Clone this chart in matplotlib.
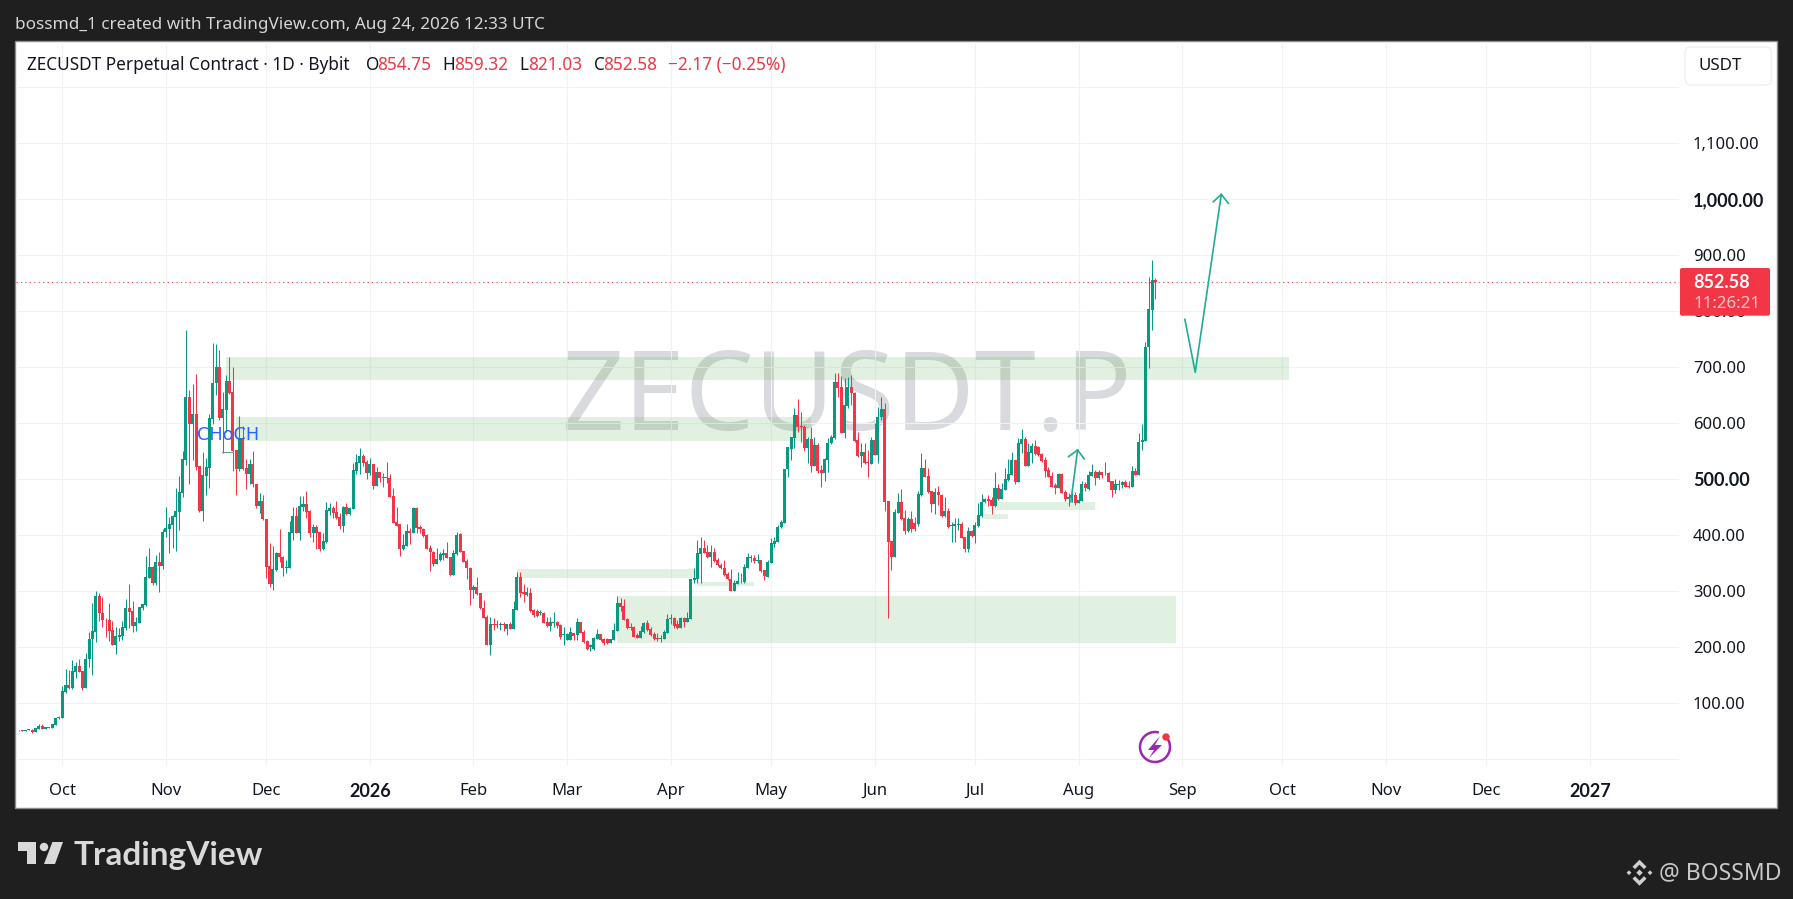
#!/usr/bin/env python3
"""
ZECUSDT daily candles with drawn zones, in the look of a TradingView snapshot.

Usage:
    python plot.py
"""

import matplotlib

matplotlib.use("Agg")

import matplotlib.pyplot as plt
import numpy as np
import pandas as pd
from matplotlib.patches import Arc, Circle, FancyBboxPatch, Polygon, Rectangle

# Daily candles, one per day from 2025-09-17 to 2026-08-24
FIRST_DAY = "2025-09-17"
opens = [
    51.5, 51, 51, 50.8, 51.5, 52, 48.2, 54, 58.3, 54,
    57, 56, 61.3, 73, 74, 119.6, 131.5, 127.4, 156, 165.5,
    156.5, 127.4, 178, 213.7, 227.4, 291, 260, 249, 248.2, 230.4,
    204.2, 218.4, 219.6, 233.9, 269.6, 264.3, 237.5, 243.5, 269, 275,
    323, 342.8, 314.3, 351.8, 345.2, 404.7, 411.3, 418.4, 432.7, 441.6,
    475.6, 533.9, 646.4, 598.2, 616, 523, 443.4, 505.9, 520.2, 607,
    670.8, 700, 608.9, 623.8, 675, 655.3, 551.8, 518.4, 573.2, 519,
    509.5, 526.8, 490.5, 452.4, 460.7, 428.6, 344.6, 313, 337.5, 368.4,
    360.1, 341.6, 341.6, 404.1, 433.9, 404.1, 450.6, 455.3, 443.4, 404.1,
    414.3, 404.7, 375, 387.5, 442.2, 448.2, 441, 432, 416, 450,
    437.5, 446.4, 514.2, 529.1, 541, 530.3, 510.7, 526.8, 487.5, 512.5,
    503.5, 503.5, 501.8, 469.6, 423.2, 419.6, 375, 380.3, 407.1, 404.1,
    448.2, 414.3, 410.7, 400, 376.8, 369, 348.2, 355.3, 363.7, 367.2,
    360.2, 328.6, 366.1, 402.4, 371.5, 353.6, 341.7, 301.8, 307.2, 295.9,
    270.3, 253.6, 203.6, 241.1, 241.1, 240, 241.1, 232.2, 241.1, 232.2,
    266.1, 325.7, 297.7, 292.9, 297.1, 266.1, 264.3, 260.2, 261.4, 245.3,
    237.6, 243.5, 245.3, 239.4, 220.9, 213.2, 213.2, 224.5, 221.5, 244.7,
    226.9, 210.8, 200.7, 196.5, 214.4, 222.7, 214.4, 213.8, 207.8, 212.6,
    229.2, 279.2, 273.3, 249.5, 235.8, 236.4, 221.5, 216.7, 227.4, 242.3,
    231.6, 222.7, 215.5, 214.4, 214.4, 225.7, 249.5, 251.3, 241.1, 234,
    251.3, 244.1, 250.1, 319.7, 320.9, 366.1, 376.2, 370.3, 360.2, 369.1,
    355.4, 346.5, 340.5, 329.8, 322.1, 300.7, 312.6, 316.7, 315.5, 341.7,
    360.8, 358.4, 354.2, 354.8, 337, 325.7, 350.7, 384, 387.5, 413.7,
    422.1, 517.3, 554.2, 573.2, 614.3, 594.6, 593.4, 556, 571.4, 523.2,
    560.7, 516.1, 511.3, 533.9, 563.7, 572.6, 673.8, 664.3, 582.7, 630.9,
    664.3, 654.2, 569.6, 541.7, 548.2, 530.4, 526.8, 569.6, 542.9, 610.1,
    624.4, 460.7, 389.3, 361.3, 440, 458.9, 429.8, 407.2, 428.6, 422,
    419.6, 471.4, 519, 505.4, 478.6, 455.4, 476.2, 472, 433.9, 442.3,
    416.7, 416.7, 417.3, 420.3, 396.4, 375, 407.7, 398.2, 416, 433.9,
    458.9, 463.7, 462.5, 451.8, 483.9, 463.7, 480.4, 498.2, 507.1, 533.9,
    495.2, 562.5, 570.8, 523.8, 546.4, 558.9, 557.7, 544.6, 533.3, 516.1,
    505.4, 489.9, 484, 508.9, 476.8, 464.9, 466.1, 470.8, 457.7, 460.7,
    491.7, 482.1, 505.9, 511.9, 501.2, 511.9, 508.3, 510.1, 496.4, 480.4,
    489.9, 489.9, 494.6, 487.5, 485.7, 514.3, 507.1, 566, 568, 735, 802.4, 854.75,
]
highs = [
    52, 51.5, 51.5, 52, 53.5, 53, 56, 62, 62, 57,
    58, 63, 74, 77, 130, 160.7, 159, 176.8, 173.8, 178,
    157, 188.7, 227.4, 279, 300, 295.8, 289.9, 251, 279, 246.4,
    236.3, 233.3, 246.4, 285.7, 312.5, 282, 254, 271.5, 277, 362.5,
    376.8, 344, 364.3, 369.6, 410.7, 450, 431.5, 435.7, 483.3, 505.3,
    549.4, 766, 658.9, 669.6, 687.5, 523, 547.6, 537.5, 616, 742.8,
    741, 730.3, 654.7, 685.7, 717.8, 700.6, 552, 612.5, 594.6, 536.3,
    535.7, 550, 491, 475, 471.4, 429, 385.7, 380.3, 370.2, 410.7,
    362.5, 355.3, 425, 450, 450, 469.6, 469, 478, 444.6, 419.6,
    417.8, 405, 403, 458.9, 456.5, 451.8, 460.1, 438.7, 451.8, 456.5,
    450.6, 528, 544.6, 554.7, 544.6, 533.9, 536.9, 527, 522, 513,
    511.3, 529.7, 508.9, 483.9, 450, 420, 401.8, 419.6, 411.9, 449.4,
    449.4, 417.8, 411.9, 401, 382, 370.8, 376.2, 369.6, 374.4, 386.9,
    361, 373.3, 404.8, 404.2, 372, 356.6, 343.5, 310.8, 324.5, 297,
    284, 256.6, 254.2, 251.3, 248.3, 245.3, 245.3, 241.5, 245.3, 282.2,
    333.4, 333.4, 312.6, 307.8, 304.8, 267.9, 267.9, 266.1, 263.2, 253,
    254.2, 262, 246.5, 241.1, 235.2, 224.5, 235.2, 224.5, 251.3, 245,
    230.4, 212.6, 205.4, 218.5, 232.2, 223, 215.5, 215.5, 215, 242.3,
    291.1, 288.2, 285.8, 251.3, 242.3, 237.6, 224.5, 238.2, 245.3, 248.3,
    235.2, 226.3, 224.5, 221.5, 230.4, 259, 259, 254.2, 248.3, 254.2,
    253, 262, 321, 340.5, 391.1, 395.9, 391.1, 382.2, 382.2, 376.2,
    358.4, 350.7, 355.4, 334.6, 339.3, 319.7, 334.6, 331.6, 348.3, 367.3,
    364.3, 364.3, 365.5, 356, 338.2, 355.4, 394.1, 395.9, 417.9, 426.8,
    517.5, 556.8, 575.6, 626.2, 642.3, 620.2, 596.4, 575.6, 592.3, 575.6,
    563.7, 525, 536.9, 572.6, 578.6, 688.7, 688.7, 683.9, 679.7, 681.5,
    685.7, 654.5, 584.5, 563.7, 563.7, 551.8, 575.6, 599.4, 629.2, 647,
    635.1, 461, 390, 445.8, 474.4, 482.1, 444.6, 432.7, 443.4, 431.5,
    479.2, 545.8, 535.1, 519, 478.8, 483.3, 488.1, 473.2, 467.3, 447.6,
    423.8, 431, 431, 423.8, 397, 413.7, 408.9, 423.8, 456.6, 473.2,
    465.5, 471.4, 467.3, 512.5, 491, 492.3, 519, 535.1, 548.8, 534,
    573.8, 589.3, 574.4, 563.7, 564.9, 569.6, 559, 545.8, 539.9, 522,
    513.1, 492.3, 510, 510.1, 480.4, 474.4, 477.4, 477.4, 474.4, 497,
    495.2, 514.9, 526.8, 516.1, 516.1, 513.1, 529.8, 511.9, 496.5, 499.4,
    498.2, 497, 498.2, 497, 523.2, 519, 581.5, 598, 745, 860, 891, 859.32,
]
lows = [
    51, 50.5, 50.5, 50.5, 51, 47, 48, 54, 53, 53.5,
    55, 55.5, 60.5, 72, 73, 118.5, 125.6, 125.6, 145, 155,
    123, 127, 164.9, 150.6, 209.5, 247, 236.3, 218.5, 210.7, 204,
    187.5, 211.3, 212.5, 230.4, 233.3, 227.4, 229, 243, 266, 273,
    323, 310, 310.7, 298.8, 338.7, 395.8, 368.4, 376.2, 372, 408.9,
    468.4, 525, 491, 533.9, 516, 441, 425.6, 471.4, 483.3, 598,
    650, 605.3, 547, 584.5, 651, 514.3, 471.4, 514.8, 515.4, 482.1,
    491, 486.3, 448.8, 438.7, 426.8, 323.8, 307.7, 302.4, 336.3, 352.4,
    327.4, 331.5, 341, 391, 403, 391, 443.4, 429.7, 397, 388,
    375, 372, 373, 386.3, 436.3, 429.7, 428, 410.7, 406, 435.7,
    435.7, 446, 508.9, 508.9, 523.2, 500, 507, 482, 487, 495.2,
    485.7, 492.8, 468, 421.8, 416, 362.5, 373, 380, 384, 404,
    403.6, 403, 397, 374.4, 335.7, 344.6, 348, 354, 355.3, 358.3,
    326.9, 328.5, 364.3, 369.1, 351.2, 320.9, 275, 288.2, 292.9, 267.3,
    251.3, 203.5, 185.8, 230.4, 233.4, 230.4, 228.6, 221.5, 232, 232,
    266, 290, 281, 291.1, 263.2, 254.2, 254.2, 257.2, 242.3, 236.4,
    229.2, 235.2, 233.4, 214.4, 203.6, 212.6, 212.6, 212.6, 212.6, 224.5,
    207.8, 194.7, 193.5, 194.7, 213.8, 211.4, 203.6, 205.4, 207.5, 212.5,
    229, 264.3, 248, 231.6, 230.4, 217.3, 215.5, 215.5, 224.5, 229.2,
    219.7, 212.6, 210.8, 208.4, 213.8, 224.5, 241.1, 233.4, 232.2, 233.4,
    236.4, 244, 250, 313.8, 313.8, 313.8, 367.3, 358.4, 343.5, 352.4,
    344.7, 338.8, 326.8, 319.7, 300.6, 300, 312, 313.8, 315, 340.5,
    352.4, 350.7, 350.7, 334.6, 319.7, 324.5, 349.5, 378, 387, 413.1,
    420.9, 504.2, 533.9, 554.8, 584.5, 566.7, 550.6, 528, 513.1, 523,
    511.3, 486.3, 496.4, 513.1, 562.5, 572, 645.8, 581.5, 573.8, 626.2,
    632.1, 566.7, 539.9, 522, 526.8, 504.2, 526.5, 542, 528, 605,
    443.5, 251.2, 337.5, 361, 439.9, 426.8, 401.8, 406, 404.8, 407.7,
    416, 469.6, 503, 475.6, 441.7, 437.5, 453.6, 431.5, 432.7, 411.9,
    388.1, 388, 409, 394, 370.3, 370.3, 397, 386.3, 414.9, 432.7,
    456.6, 452.4, 437.5, 450.6, 462.5, 463.5, 480, 497, 507, 491,
    494, 545.8, 523.2, 523.5, 528, 542.9, 541.7, 530.9, 504.2, 503,
    485.1, 473.2, 483.3, 474.4, 460.7, 451.8, 459.5, 453.6, 457.5, 460.5,
    479.2, 480.4, 505.4, 489.3, 500.6, 501.2, 506.5, 494, 468.4, 475.6,
    480.4, 483.3, 485.1, 483.3, 485.5, 507, 507, 551, 567, 698, 766, 821.03,
]
closes = [
    51, 50.9, 50.8, 51.5, 53, 48.2, 55.4, 58.3, 54, 56.6,
    55.5, 62.5, 73, 75, 121.5, 131.5, 126.8, 156.5, 165.5, 156,
    127.4, 178, 213.7, 228.6, 291, 260, 248.2, 248, 229.2, 204.2,
    219.6, 220.8, 235.1, 269.6, 263, 238, 244, 271.4, 276.8, 324.4,
    342.8, 314.3, 351.8, 344.6, 404.7, 411.9, 419.6, 433.9, 442.2, 476.8,
    535.1, 646.4, 598.8, 616, 522, 442.8, 507, 520.8, 608.9, 671.4,
    700, 608.9, 625, 675, 653.5, 550.6, 518.4, 573.2, 517.2, 509.5,
    526.8, 490.5, 452.4, 460.7, 428, 343.4, 313, 338.7, 368.4, 360.1,
    341, 342.8, 405.3, 433.9, 404.1, 451.8, 455.3, 441, 404.1, 414.3,
    404.1, 375, 388.7, 444.6, 448.2, 439.8, 430.3, 416, 450, 437.5,
    448.2, 515.4, 529.7, 541, 529.1, 510.7, 526.2, 488, 512.5, 501.8,
    501.8, 501.8, 468.4, 422, 416.6, 375.6, 381.5, 407.1, 403.6, 448.2,
    413, 410, 398.2, 375.6, 369, 348.2, 356.5, 365.5, 367.2, 359.5,
    328.6, 367.3, 400, 370.3, 352.4, 340.5, 301.8, 307.2, 294.7, 269.1,
    252.4, 203.6, 241.1, 240, 240, 241.1, 240, 241.1, 232.2, 267.9,
    325.7, 297.1, 294.7, 297.7, 264.3, 257.2, 256, 262, 243.5, 237.6,
    245.3, 245.3, 238.2, 217.3, 222.7, 222.7, 226.3, 220.3, 244.7, 225.7,
    209.6, 195.9, 203.6, 215.5, 222.7, 212.6, 207.8, 207.8, 214.4, 230.4,
    278, 272.1, 248.3, 234.6, 234.6, 218.5, 216.7, 228.6, 243.5, 230.4,
    221.5, 214.4, 213.8, 216.1, 226.9, 249.5, 251.3, 237.6, 234, 251.3,
    244.1, 251.3, 320.9, 322.7, 367.3, 376.2, 368.5, 360.2, 369.1, 354.2,
    346.5, 340.5, 328.6, 320.9, 300.7, 313.8, 317.9, 315.5, 342.3, 360.2,
    359.6, 353.6, 355.4, 335.8, 326.8, 351.8, 385.2, 389.3, 414.9, 423.3,
    517.3, 556.5, 574.4, 614.3, 593.4, 592.3, 554.8, 571.4, 523.2, 560.7,
    514.9, 511.3, 535.1, 564.9, 574.4, 673.8, 663.1, 582.7, 632.1, 664.3,
    653, 568.4, 541.7, 548.2, 529.2, 529.2, 569.6, 542.9, 610.1, 624.4,
    459.5, 388.1, 361.3, 441.1, 458.9, 428.6, 407.2, 428.6, 410.7, 410.7,
    473.2, 519, 504.2, 477.4, 455.4, 476.2, 470.8, 433.9, 442.3, 414.9,
    418.5, 419.1, 419.1, 395.2, 375, 407.7, 398.8, 417.3, 435.1, 459.5,
    463.7, 461.3, 452.4, 483.9, 463.7, 481.5, 499.4, 508.3, 533.9, 494,
    563.7, 570.8, 523.8, 547.6, 558.9, 544.6, 542.9, 532.1, 514.9, 504.2,
    486.3, 484.5, 508.9, 475.6, 464.9, 467.3, 470.8, 457.7, 462.5, 491,
    483.3, 507.1, 511.9, 502.4, 511.9, 507.1, 509.5, 495.2, 480.4, 491,
    491.7, 494.6, 486.3, 485.7, 514.3, 507.1, 566.1, 569, 735, 804, 854.75, 852.58,
]

# Drawn zones: first date, last date, lower price, upper price
zone_starts = ["2025-11-19", "2025-11-22", "2026-03-16", "2026-02-14", "2026-04-09", "2026-07-03", "2026-07-07"]
zone_ends = ["2026-10-03", "2026-05-13", "2026-08-30", "2026-04-08", "2026-04-26", "2026-07-11", "2026-08-06"]
zone_lows = [676.8, 567.8, 207.8, 323.0, 309.6, 428.6, 444.6]
zone_highs = [717.8, 610.7, 291.1, 339.3, 316.1, 437.5, 458.9]

# Drawn arrows, as fractional days since Oct 1 2025 and price
small_arrow_days = [301.7, 303.7]
small_arrow_prices = [459.5, 551.8]
small_head_days = [301.0, 303.7, 305.7]
small_head_prices = [539.9, 551.8, 535.7]
big_arrow_days = [335.8, 338.9, 346.7]
big_arrow_prices = [785.1, 690.5, 1008.3]
big_head_days = [344.3, 346.7, 348.8]
big_head_prices = [995.0, 1008.3, 992.3]

last_price = 852.58
price_ticks = [0, 100, 200, 300, 400, 500, 600, 700, 800, 900, 1000, 1100, 1200]
price_labels = ["", "100.00", "200.00", "300.00", "400.00", "500.00", "600.00", "700.00",
                "800.00", "900.00", "1,000.00", "1,100.00", ""]
month_dates = ["2025-10-01", "2025-11-01", "2025-12-01", "2026-01-01", "2026-02-01", "2026-03-01",
               "2026-04-01", "2026-05-01", "2026-06-01", "2026-07-01", "2026-08-01", "2026-09-01",
               "2026-10-01", "2026-11-01", "2026-12-01", "2027-01-01"]
month_labels = ["Oct", "Nov", "Dec", "2026", "Feb", "Mar", "Apr", "May", "Jun", "Jul", "Aug", "Sep",
                "Oct", "Nov", "Dec", "2027"]

UP = "#089981"
DOWN = "#f23645"
ARROW = "#22ab94"
DARK = "#1f1f1f"
TEXT = "#131722"
FONT = "Noto Sans"
BOLD_FONT = "Lato"  # Noto Sans here has no bold face
W, H = 1793, 899
ORIGIN = pd.Timestamp("2025-10-01")


def day_number(date) -> int:
    """Days since Oct 1 2025, the x unit of the chart."""
    return (pd.Timestamp(date) - ORIGIN).days


def draw_candles(ax):
    """Draw wicks and bodies from the OHLC lists."""
    o, h, l, c = map(np.array, (opens, highs, lows, closes))
    days = np.array([day_number(d) for d in pd.date_range(FIRST_DAY, periods=len(o))])
    colors = np.where(c >= o, UP, DOWN)
    ax.vlines(days, l, h, colors=colors, linewidth=0.75, zorder=3)
    # keep flat days visible as a thin line
    heights = np.maximum(np.abs(c - o), 1.0)
    ax.bar(days, heights, bottom=np.minimum(o, c), width=0.9, color=colors, linewidth=0, zorder=4)


def draw_drawings(ax):
    """Zones, arrows and the CHoCH mark."""
    for start, end, low, high in zip(zone_starts, zone_ends, zone_lows, zone_highs):
        x0, x1 = day_number(start), day_number(end)
        ax.add_patch(Rectangle((x0, low), x1 - x0, high - low, facecolor="#4caf50",
                               alpha=0.17, linewidth=0, zorder=2))
    ax.plot(small_arrow_days, small_arrow_prices, color=ARROW, lw=1.2, zorder=5)
    ax.plot(small_head_days, small_head_prices, color=ARROW, lw=1.2, zorder=5)
    ax.plot(big_arrow_days, big_arrow_prices, color=ARROW, lw=1.2, zorder=5)
    ax.plot(big_head_days, big_head_prices, color=ARROW, lw=1.2, zorder=5)
    ax.plot([47.9, 51.1], [547.6, 547.6], color="#6f9d94", lw=0.8, zorder=5)
    ax.text(49.7, 578.6, "CHoCH", color="#2962ff", fontsize=12.7, family="DejaVu Sans",
            ha="center", va="center", zorder=6)


def draw_frame(bg):
    """Dark page and the white chart panel."""
    bg.add_patch(Rectangle((15.3, 41), 1761.7, 767, facecolor="white", edgecolor="#8c8c8c", lw=1))
    bg.text(0.5 * (566 + 1129), 401, "ZECUSDT.P", color="#d9dadd", fontsize=79,
            family=FONT, ha="center", va="center")


def draw_overlay(top):
    """Header text, price tag, logos and other chrome, in page pixels."""
    top.text(15, 25, "bossmd_1 created with TradingView.com, Aug 24, 2026 12:33 UTC",
             color="#d6d6d6", fontsize=12.3, family=FONT, va="center")
    top.text(27, 65, "ZECUSDT Perpetual Contract \u00b7 1D \u00b7 Bybit", color=TEXT, fontsize=12.4,
             family=FONT, va="center")
    for x, label, color in [(366, "O", TEXT), (377.6, "854.75", DOWN), (442, "H", TEXT),
                            (454, "859.32", DOWN), (519, "L", TEXT), (528, "821.03", DOWN),
                            (593.6, "C", TEXT), (603, "852.58", DOWN),
                            (668, "\u22122.17 (\u22120.25%)", DOWN)]:
        top.text(x, 65, label, color=color, fontsize=12.4, family=FONT, va="center")

    # currency button
    top.add_patch(FancyBboxPatch((1685, 47), 86.5, 38, boxstyle="round,pad=0,rounding_size=6",
                                 facecolor="white", edgecolor="#eceef2", lw=1))
    top.text(1699, 66.5, "USDT", color=TEXT, fontsize=12.2, family=FONT, va="center")

    # last price tag
    top.add_patch(FancyBboxPatch((1680, 268), 90, 47.7, boxstyle="round,pad=0,rounding_size=2",
                                 facecolor=DOWN, edgecolor="none"))
    top.text(1693, 282, "852.58", color="white", fontsize=13, family=BOLD_FONT, weight="bold", va="center")
    top.text(1693, 303.5, "11:26:21", color="#fbc3c8", fontsize=12.2, family=FONT, va="center")

    # lightning badge
    top.add_patch(Arc((1155, 747), 30, 30, theta1=-40, theta2=285, color="#9c27b0", lw=1.8))
    top.add_patch(Polygon([[1160, 736], [1148, 750], [1154, 750], [1149, 758], [1162, 745], [1155, 745]],
                          facecolor="#9c27b0", edgecolor="none"))
    top.add_patch(Circle((1166, 737), 3.7, facecolor=DOWN, edgecolor="none"))

    # TradingView logo
    logo = "#d9d9d9"
    top.add_patch(Polygon([[18, 842], [36.4, 842], [36.4, 864], [27, 864], [27, 851], [18, 851]],
                          facecolor=logo, edgecolor="none"))
    top.add_patch(Circle((44, 847), 4.2, facecolor=logo, edgecolor="none"))
    top.add_patch(Polygon([[52.4, 842], [63, 842], [55, 864], [44, 864]], facecolor=logo, edgecolor="none"))
    top.text(73.5, 855, "TradingView", color=logo, fontsize=24, family=BOLD_FONT, weight="bold", va="center")

    # Binance mark and handle
    mark = "#cfcfcf"
    cx, cy = 1639.5, 872.7
    for dx, dy, r in [(0, 0, 3.2), (-10.5, 0, 2.4), (10.5, 0, 2.4)]:
        top.add_patch(Polygon([[cx + dx - r, cy + dy], [cx + dx, cy + dy - r], [cx + dx + r, cy + dy],
                               [cx + dx, cy + dy + r]], facecolor=mark, edgecolor="none"))
    for sign in (-1, 1):
        top.add_patch(Polygon([[cx - 7, cy + sign * 6], [cx, cy + sign * 13], [cx + 7, cy + sign * 6],
                               [cx + 4.5, cy + sign * 3.5], [cx, cy + sign * 8], [cx - 4.5, cy + sign * 3.5]],
                              facecolor=mark, edgecolor="none"))
    top.text(1659, 873, "@ BOSSMD", color="#c8c8c8", fontsize=16.5, family=FONT, va="center")


def main():
    fig = plt.figure(figsize=(W / 100, H / 100), dpi=100, facecolor=DARK)

    bg = fig.add_axes([0, 0, 1, 1], zorder=0)
    bg.set_xlim(0, W)
    bg.set_ylim(H, 0)
    bg.axis("off")
    draw_frame(bg)

    left, right, top_px, bottom_px = 16, 1679, 42, 766
    ax = fig.add_axes([left / W, 1 - bottom_px / H, (right - left) / W, (bottom_px - top_px) / H], zorder=1)
    ax.patch.set_alpha(0)
    ax.set_xlim((left - 62.3) / 3.343, (right - 62.3) / 3.343)
    ax.set_ylim(1000 - (bottom_px - 199) / 0.56, 1000 - (top_px - 199) / 0.56)
    for spine in ax.spines.values():
        spine.set_visible(False)

    ax.set_axisbelow(True)
    ax.grid(True, color="#f2f2f3", lw=0.75)
    ax.yaxis.tick_right()
    ax.set_yticks(price_ticks, price_labels)
    ax.set_xticks([day_number(d) for d in month_dates], month_labels)
    ax.tick_params(axis="both", length=0, labelsize=12, labelcolor=TEXT)
    ax.tick_params(axis="y", pad=10)
    ax.tick_params(axis="x", pad=12)
    for label in ax.get_xticklabels() + ax.get_yticklabels():
        label.set_family(FONT)
        if label.get_text() in ("2026", "2027", "1,000.00", "500.00"):
            label.set_family(BOLD_FONT)
            label.set_weight("bold")
            label.set_fontsize(13)

    draw_drawings(ax)
    draw_candles(ax)
    ax.axhline(last_price, color=DOWN, lw=0.8, linestyle=(0, (1, 3)), zorder=3)

    top = fig.add_axes([0, 0, 1, 1], zorder=2)
    top.patch.set_alpha(0)
    top.set_xlim(0, W)
    top.set_ylim(H, 0)
    top.axis("off")
    draw_overlay(top)

    fig.savefig("out.png", dpi=100, facecolor=DARK)


if __name__ == "__main__":
    main()
